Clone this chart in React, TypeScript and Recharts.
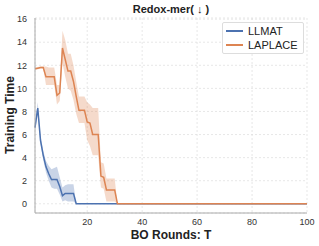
import { Area, ComposedChart, CartesianGrid, Line, XAxis, YAxis } from 'recharts';

const rounds = Array.from({ length: 100 }, (_, i) => i + 1);

const llmat = [
  6.6, 8.3, 5.5, 4.2, 3.2, 2.6, 2.1, 2.1, 2.1, 1.5,
  0.7, 0.9, 0.9, 0.9, 0.9, 0, 0, 0, 0, 0,
  0, 0, 0, 0, 0, 0, 0, 0, 0, 0,
  0, 0, 0, 0, 0, 0, 0, 0, 0, 0,
  0, 0, 0, 0, 0, 0, 0, 0, 0, 0,
  0, 0, 0, 0, 0, 0, 0, 0, 0, 0,
  0, 0, 0, 0, 0, 0, 0, 0, 0, 0,
  0, 0, 0, 0, 0, 0, 0, 0, 0, 0,
  0, 0, 0, 0, 0, 0, 0, 0, 0, 0,
  0, 0, 0, 0, 0, 0, 0, 0, 0, 0,
];
const llmatLo = [
  6.3, 7.9, 5.2, 3.8, 2.7, 2.0, 1.4, 1.3, 1.3, 0.8,
  0.2, 0.3, 0.2, 0.2, 0.2, 0, 0, 0, 0, 0,
  0, 0, 0, 0, 0, 0, 0, 0, 0, 0,
  0, 0, 0, 0, 0, 0, 0, 0, 0, 0,
  0, 0, 0, 0, 0, 0, 0, 0, 0, 0,
  0, 0, 0, 0, 0, 0, 0, 0, 0, 0,
  0, 0, 0, 0, 0, 0, 0, 0, 0, 0,
  0, 0, 0, 0, 0, 0, 0, 0, 0, 0,
  0, 0, 0, 0, 0, 0, 0, 0, 0, 0,
  0, 0, 0, 0, 0, 0, 0, 0, 0, 0,
];
const llmatHi = [
  6.9, 8.8, 5.9, 4.6, 3.7, 3.3, 3.0, 3.1, 3.2, 2.3,
  1.4, 1.6, 1.7, 1.7, 1.7, 0, 0, 0, 0, 0,
  0, 0, 0, 0, 0, 0, 0, 0, 0, 0,
  0, 0, 0, 0, 0, 0, 0, 0, 0, 0,
  0, 0, 0, 0, 0, 0, 0, 0, 0, 0,
  0, 0, 0, 0, 0, 0, 0, 0, 0, 0,
  0, 0, 0, 0, 0, 0, 0, 0, 0, 0,
  0, 0, 0, 0, 0, 0, 0, 0, 0, 0,
  0, 0, 0, 0, 0, 0, 0, 0, 0, 0,
  0, 0, 0, 0, 0, 0, 0, 0, 0, 0,
];

const laplace = [
  11.7, 11.75, 11.8, 11.8, 11.0, 11.0, 11.0, 11.0, 9.4, 9.6,
  13.5, 12.5, 11.5, 11.5, 10.6, 9.3, 8.1, 8.1, 8.1, 7.1,
  7.0, 6.0, 6.0, 6.0, 2.4, 2.3, 1.2, 1.2, 1.2, 1.2,
  0, 0, 0, 0, 0, 0, 0, 0, 0, 0,
  0, 0, 0, 0, 0, 0, 0, 0, 0, 0,
  0, 0, 0, 0, 0, 0, 0, 0, 0, 0,
  0, 0, 0, 0, 0, 0, 0, 0, 0, 0,
  0, 0, 0, 0, 0, 0, 0, 0, 0, 0,
  0, 0, 0, 0, 0, 0, 0, 0, 0, 0,
  0, 0, 0, 0, 0, 0, 0, 0, 0, 0,
];
const laplaceLo = [
  11.6, 11.65, 11.7, 11.7, 10.3, 10.3, 10.3, 10.3, 8.6, 8.9,
  12.2, 11.0, 10.0, 9.8, 9.0, 7.8, 7.0, 7.0, 7.0, 5.5,
  5.0, 4.2, 4.2, 4.2, 1.4, 1.3, 0.2, 0.2, 0.2, 0.2,
  0, 0, 0, 0, 0, 0, 0, 0, 0, 0,
  0, 0, 0, 0, 0, 0, 0, 0, 0, 0,
  0, 0, 0, 0, 0, 0, 0, 0, 0, 0,
  0, 0, 0, 0, 0, 0, 0, 0, 0, 0,
  0, 0, 0, 0, 0, 0, 0, 0, 0, 0,
  0, 0, 0, 0, 0, 0, 0, 0, 0, 0,
  0, 0, 0, 0, 0, 0, 0, 0, 0, 0,
];
const laplaceHi = [
  11.8, 11.85, 11.9, 11.9, 11.9, 11.8, 11.8, 11.8, 10.3, 10.3,
  15.0, 14.2, 13.0, 13.0, 12.0, 10.6, 9.3, 9.3, 9.3, 8.8,
  8.6, 8.3, 8.3, 8.3, 3.6, 3.5, 2.2, 2.2, 2.2, 2.2,
  0, 0, 0, 0, 0, 0, 0, 0, 0, 0,
  0, 0, 0, 0, 0, 0, 0, 0, 0, 0,
  0, 0, 0, 0, 0, 0, 0, 0, 0, 0,
  0, 0, 0, 0, 0, 0, 0, 0, 0, 0,
  0, 0, 0, 0, 0, 0, 0, 0, 0, 0,
  0, 0, 0, 0, 0, 0, 0, 0, 0, 0,
  0, 0, 0, 0, 0, 0, 0, 0, 0, 0,
];

const xTicks = [20, 40, 60, 80, 100];
const yTicks = [0, 2, 4, 6, 8, 10, 12, 14, 16];

const BLUE = '#4c72b0';
const ORANGE = '#dd8452';
const FONT = '"Liberation Sans", Arial, sans-serif';

const data = rounds.map((t, i) => ({
  t,
  llmat: llmat[i],
  llmatBand: [llmatLo[i], llmatHi[i]],
  laplace: laplace[i],
  laplaceBand: [laplaceLo[i], laplaceHi[i]],
}));

const tickStyle = { fontSize: 9, fill: '#333', fontFamily: FONT };

export default function App() {
  return (
    <div style={{ position: 'absolute', left: 0, top: 0, width: 319, height: 246, background: '#fff', fontFamily: FONT }}>
      <div style={{ position: 'absolute', left: 35, width: 272, top: 3, textAlign: 'center', fontSize: 11, fontWeight: 'bold', color: '#222' }}>
        Redox-mer( ↓ )
      </div>
      <div
        style={{
          position: 'absolute', left: 10, top: 115, transform: 'translate(-50%, -50%) rotate(-90deg)',
          fontSize: 12, fontWeight: 'bold', color: '#222', whiteSpace: 'nowrap',
        }}
      >
        Training Time
      </div>
      <div style={{ position: 'absolute', left: 35, width: 272, top: 228, textAlign: 'center', fontSize: 12, fontWeight: 'bold', color: '#222' }}>
        BO Rounds: T
      </div>
      <ComposedChart width={319} height={246} data={data} margin={{ top: 18, right: 12, left: 0, bottom: 0 }}>
        <CartesianGrid stroke="#dcdcdc" strokeDasharray="2 2" strokeWidth={0.7} />
        <XAxis
          dataKey="t"
          type="number"
          domain={[1, 100]}
          ticks={xTicks}
          tick={tickStyle}
          tickLine={false}
          tickSize={4}
          tickMargin={2}
          stroke="#aaa"
          height={33}
        />
        <YAxis
          type="number"
          domain={[-0.8, 16.1]}
          ticks={yTicks}
          tick={tickStyle}
          tickLine={false}
          stroke="#aaa"
          width={35}
        />
        <Area dataKey="llmatBand" stroke="none" fill={BLUE} fillOpacity={0.3} isAnimationActive={false} type="linear" />
        <Area dataKey="laplaceBand" stroke="none" fill={ORANGE} fillOpacity={0.3} isAnimationActive={false} type="linear" />
        <Line dataKey="llmat" stroke={BLUE} strokeWidth={1.5} dot={false} isAnimationActive={false} type="linear" />
        <Line dataKey="laplace" stroke={ORANGE} strokeWidth={1.5} dot={false} isAnimationActive={false} type="linear" />
      </ComposedChart>
      <div
        style={{
          position: 'absolute', left: 222, top: 22, width: 80, height: 30, border: '1px solid #ddd', borderRadius: 2,
          background: 'rgba(255,255,255,0.9)', fontSize: 11, color: '#222',
        }}
      >
        {[
          { name: 'LLMAT', color: BLUE },
          { name: 'LAPLACE', color: ORANGE },
        ].map((s, i) => (
          <div key={s.name} style={{ position: 'absolute', left: 3, top: 1 + i * 14, display: 'flex', alignItems: 'center', height: 14 }}>
            <span style={{ display: 'inline-block', width: 17, height: 2, background: s.color, marginRight: 5 }} />
            {s.name}
          </div>
        ))}
      </div>
    </div>
  );
}
